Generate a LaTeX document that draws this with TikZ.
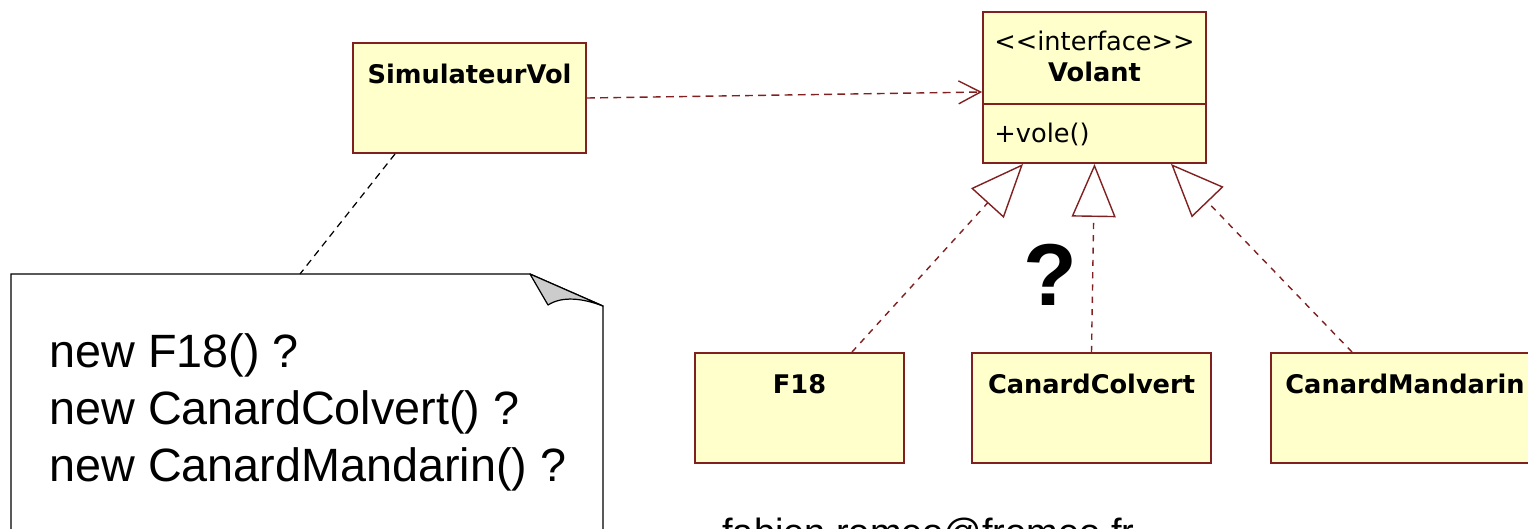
\documentclass[tikz,border=0pt]{standalone}
\usepackage{fontspec}
\setmainfont{Liberation Sans}
\newfontfamily\umlfont{DejaVu Sans}
\usetikzlibrary{arrows.meta}
\definecolor{umlfill}{RGB}{255,255,204}
\definecolor{umlline}{RGB}{128,32,32}
\definecolor{foldgray}{RGB}{204,204,204}
\newcommand\stereo[1]{<\kern0pt<#1>\kern0pt>}

\begin{document}
\begin{tikzpicture}[x=0.02cm,y=-0.02cm,
    class node/.style={rectangle,draw=umlline,fill=umlfill,line width=1.1pt,inner sep=0pt,
      text height=0.8cm,text depth=1.4cm,font=\umlfont\bfseries\fontsize{14.6}{17}\selectfont},
    uml text/.style={inner sep=0pt,font=\umlfont\fontsize{14.6}{17}\selectfont},
    depends/.style={draw=umlline,line width=0.8pt,dash pattern=on 4.5pt off 3pt,
      -{Straight Barb[length=0.44cm,width=0.46cm]}},
    realizes/.style={draw=umlline,line width=0.8pt,dash pattern=on 3.5pt off 3.5pt,
      -{Triangle[open,length=1.06cm,width=0.88cm]}},
    note link/.style={draw=black,line width=0.7pt,dash pattern=on 4pt off 3pt}]
 \useasboundingbox (0,0) rectangle (1528,528);

 \node[class node, minimum width=4.66cm] (sim) at (469.5,98) {SimulateurVol};
 \node[class node, minimum width=4.46cm, text height=0cm, text depth=3.02cm] (volant) at (1094.5,87.5) {};
 \draw[draw=umlline,line width=1.1pt] ([yshift=-1.86cm]volant.north west) -- ([yshift=-1.86cm]volant.north east);
 \node[uml text] (stereo) at ([yshift=-0.6cm]volant.north) {\stereo{interface}};
 \node[uml text, font=\umlfont\bfseries\fontsize{14.6}{17}\selectfont] (volname) at ([yshift=-1.22cm]volant.north) {Volant};
 \node[uml text, anchor=west] (vole) at ([xshift=0.24cm,yshift=-2.46cm]volant.north west) {+vole()};

 \node[class node, minimum width=4.18cm] (f18) at (799.5,408) {F18};
 \node[class node, minimum width=4.78cm] (colvert) at (1091.5,408) {CanardColvert};
 \node[class node, minimum width=5.36cm] (mandarin) at (1405,408) {CanardMandarin};

 \draw[line width=0.7pt, fill=white] (11,560) -- (11,274) -- (530,274) -- (603,306) -- (603,560);
 \filldraw[fill=foldgray, line width=0.7pt, line join=round] (530,274) -- (548,305)
   .. controls (562,296) and (582,298) .. (603,306) -- cycle;
 \node[anchor=north west, inner sep=0pt, align=left, font=\fontsize{26.6}{32.4}\selectfont] (notetext) at (49,333)
   {new F18() ?\\new CanardColvert() ?\\new CanardMandarin() ?};

 \node[inner sep=0pt, font=\bfseries\fontsize{50}{60}\selectfont] (qmark) at (1050,275) {?};
 \node[anchor=north west, inner sep=0pt, font=\fontsize{21.6}{26}\selectfont] (mail) at (722,518) {fabien.romeo@fromeo.fr};

 \coordinate (simfoot) at ([xshift=-1.49cm]sim.south);
 \coordinate (notehook) at (300,274);

\path
 (sim.east) edge [depends] ([yshift=-0.09cm]volant.west)
 (simfoot) edge [note link] (notehook)
 ([xshift=1.05cm]f18.north) edge [realizes] ([xshift=-1.43cm]volant.south)
 (colvert.north) edge [realizes] (volant.south)
 ([xshift=-1.06cm]mandarin.north) edge [realizes] ([xshift=1.53cm]volant.south)
 ;
\end{tikzpicture}
\end{document}
